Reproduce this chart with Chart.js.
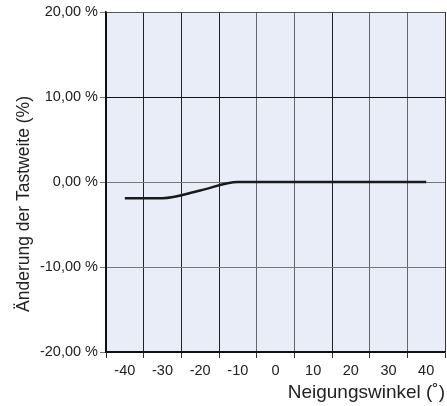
<!DOCTYPE html>
<html>
<head>
<meta charset="utf-8">
<script src="https://cdn.jsdelivr.net/npm/chart.js@4/dist/chart.umd.min.js"></script>
<style>
  html, body { margin: 0; padding: 0; background: #fff; }
  #wrap { width: 447px; height: 406px; }
</style>
</head>
<body>
<div id="wrap"><canvas id="tastChart"></canvas></div>
<script>
// Neigungswinkel in Grad
const winkel = ["-40", "-30", "-20", "-10", "0", "10", "20", "30", "40"];
// Änderung der Tastweite in %
const aenderung = [-1.9, -1.9, -1.0, 0, 0, 0, 0, 0, 0];
const yTicks = [-20, -10, 0, 10, 20];

const FONT = "'Liberation Sans', Arial, Helvetica, sans-serif";

// Hintergrund der Zeichenfläche + Achsentitel
const plotDeko = {
  id: "plotDeko",
  beforeDraw(chart){
    const { ctx, chartArea: a } = chart;
    ctx.save();
    ctx.fillStyle = "#e9edf7";
    ctx.fillRect(a.left, a.top, a.right - a.left, a.bottom - a.top);
    ctx.restore();
  },
  afterDraw(chart){
    const { ctx } = chart;
    ctx.save();
    ctx.fillStyle = "#222";
    ctx.font = "17.5px " + FONT;
    ctx.textAlign = "center";
    ctx.textBaseline = "alphabetic";
    ctx.translate(29, 204);
    ctx.rotate(-Math.PI / 2);
    ctx.fillText("Änderung der Tastweite (%)", 0, 0);
    ctx.restore();

    ctx.save();
    ctx.fillStyle = "#222";
    ctx.font = "19px " + FONT;
    ctx.textAlign = "right";
    ctx.textBaseline = "alphabetic";
    ctx.fillText("Neigungswinkel (˚)", 445, 398);
    ctx.restore();
  }
};

const vGrid = ["#111", "#222", "#222", "#222", "#666", "#666", "#222", "#666", "#666", "#555"];
const hGrid = { "-20": "#111", "-10": "#777", "0": "#777", "10": "#111", "20": "#555" };

new Chart(document.getElementById("tastChart"), {
  type: "line",
  data: {
    labels: winkel,
    datasets: [{
      data: aenderung,
      borderColor: "#1a1a1a",
      borderWidth: 2.5,
      pointRadius: 0,
      tension: 0.3,
      cubicInterpolationMode: "monotone",
      fill: false
    }]
  },
  options: {
    responsive: true,
    maintainAspectRatio: false,
    animation: false,
    layout: { padding: { top: 12, right: 2, left: 0, bottom: 0 } },
    plugins: { legend: { display: false }, tooltip: { enabled: false } },
    scales: {
      x: {
        type: "category",
        offset: true,
        afterFit(scale){ scale.height = 54; },
        grid: {
          offset: true,
          color: (c) => vGrid[c.index] || "#333",
          tickColor: "#333",
          tickLength: 6,
          lineWidth: 1
        },
        border: { color: "#111", width: 1.5 },
        ticks: { color: "#222", font: { family: FONT, size: 14.5 }, padding: 4, maxRotation: 0, autoSkip: false }
      },
      y: {
        min: -20,
        max: 20,
        afterFit(scale){ scale.width = 106; },
        afterBuildTicks(scale){ scale.ticks = yTicks.map(v => ({ value: v })); },
        grid: {
          color: (c) => hGrid[String(c.tick.value)] || "#555",
          tickColor: "#777",
          tickLength: 6,
          lineWidth: 1
        },
        border: { color: "#111", width: 1.5 },
        ticks: {
          color: "#222",
          font: { family: FONT, size: 14.5 },
          padding: 2,
          callback: (v) => v.toFixed(2).replace(".", ",") + " %"
        }
      }
    }
  },
  plugins: [plotDeko]
});
</script>
</body>
</html>
